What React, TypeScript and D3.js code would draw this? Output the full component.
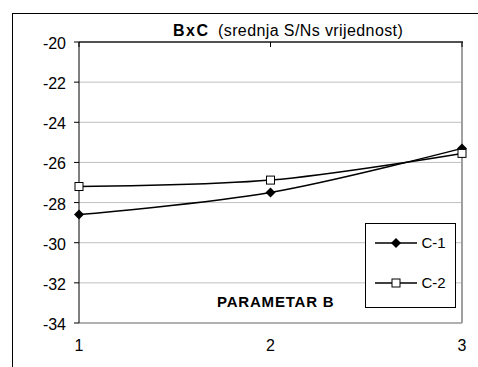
import React from "react";
import * as d3 from "d3";

const categories = [1, 2, 3];
const seriesNames = ["C-1", "C-2"];
const c1Values = [-28.6, -27.5, -25.3];
const c2Values = [-27.2, -26.88, -25.55];
const yTicks = [-20, -22, -24, -26, -28, -30, -32, -34];
const titleBold = "BxC";
const titleRest = "(srednja S/Ns vrijednost)";
const axisTitle = "PARAMETAR B";

export default function App() {
  const W = 478, H = 367;
  const left = 79, right = 462, top = 42, bottom = 323;
  const x = d3.scaleLinear().domain([1, 3]).range([left, right]);
  const y = d3.scaleLinear().domain([-34, -20]).range([bottom, top]);
  const line = d3
    .line<number>()
    .x((_, i) => x(categories[i]))
    .y((d) => y(d))
    .curve(d3.curveCardinal.tension(0));
  const font = "Arial, 'Liberation Sans', sans-serif";
  const diamond = (cx: number, cy: number, r = 5) =>
    `M${cx},${cy - r}L${cx + r},${cy}L${cx},${cy + r}L${cx - r},${cy}Z`;

  return (
    <svg width={W} height={H} style={{ position: "absolute", left: 0, top: 0 }} fontFamily={font}>
      <rect x={0} y={0} width={W} height={H} fill="#fff" />
      <rect x={12.5} y={13.5} width={480} height={370} fill="none" stroke="#000" />
      {/* gridlines */}
      {yTicks.map((t) => (
        <line key={t} x1={left} x2={right} y1={y(t)} y2={y(t)} stroke="#c0c0c0" strokeWidth={1} />
      ))}
      {/* plot border right/bottom */}
      <line x1={right} x2={right} y1={top} y2={bottom} stroke="#a0a0a0" strokeWidth={2} />
      <line x1={left} x2={right} y1={bottom} y2={bottom} stroke="#a0a0a0" strokeWidth={1.5} />
      {/* x axis at top */}
      <line x1={left} x2={right + 1} y1={top} y2={top} stroke="#222" strokeWidth={1.5} />
      {categories.map((c) => (
        <line key={c} x1={x(c)} x2={x(c)} y1={top} y2={top + 5} stroke="#000" />
      ))}
      {/* y axis */}
      <line x1={left} x2={left} y1={top} y2={bottom} stroke="#000" />
      {yTicks.map((t) => (
        <line key={t} x1={left - 5} x2={left} y1={y(t)} y2={y(t)} stroke="#000" />
      ))}
      {yTicks.map((t) => (
        <text key={t} x={66} y={y(t) + 7} textAnchor="end" fontSize={16}>
          {t}
        </text>
      ))}
      {categories.map((c) => (
        <text key={c} x={x(c)} y={351} textAnchor="middle" fontSize={16}>
          {c}
        </text>
      ))}
      {/* series */}
      <path d={line(c1Values) || ""} fill="none" stroke="#000" strokeWidth={1.5} />
      <path d={line(c2Values) || ""} fill="none" stroke="#000" strokeWidth={1.5} />
      {c1Values.map((v, i) => (
        <path key={i} d={diamond(x(categories[i]), y(v))} fill="#000" />
      ))}
      {c2Values.map((v, i) => (
        <rect key={i} x={x(categories[i]) - 4} y={y(v) - 4} width={8} height={8} fill="#fff" stroke="#000" />
      ))}
      {/* title */}
      <text x={173} y={36} fontSize={16} fontWeight="bold" letterSpacing={1.5}>
        {titleBold}
      </text>
      <text x={218} y={36} fontSize={16} letterSpacing={0.4}>
        {titleRest}
      </text>
      <text x={217} y={306.5} fontSize={15} fontWeight="bold" letterSpacing={0.8}>
        {axisTitle}
      </text>
      {/* legend */}
      <rect x={365.5} y={223.5} width={90} height={84} fill="#fff" stroke="#000" />
      {seriesNames.map((n, i) => {
        const ly = 243 + i * 40;
        return (
          <g key={n}>
            <line x1={375} x2={417} y1={ly} y2={ly} stroke="#000" strokeWidth={1.5} />
            {i === 0 ? (
              <path d={diamond(396, ly)} fill="#000" />
            ) : (
              <rect x={392} y={ly - 4} width={8} height={8} fill="#fff" stroke="#000" />
            )}
            <text x={421.5} y={ly + 5} fontSize={15}>
              {n}
            </text>
          </g>
        );
      })}
    </svg>
  );
}
